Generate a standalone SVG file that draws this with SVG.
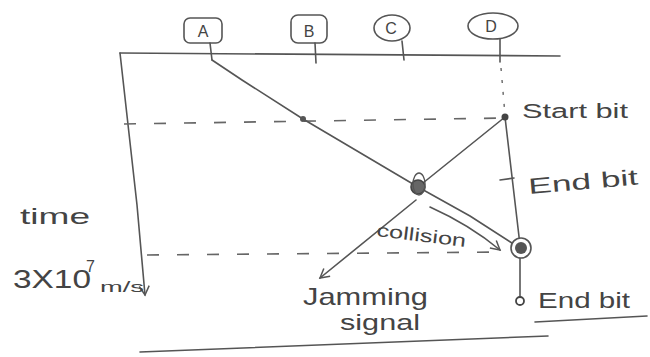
<svg xmlns="http://www.w3.org/2000/svg" width="650" height="357" viewBox="0 0 650 357">
<style>
.ln{fill:none;stroke:#555;stroke-width:1.6;stroke-linecap:round;stroke-linejoin:round}
.dash{fill:none;stroke:#666;stroke-width:1.6;stroke-dasharray:12 18}
.box{fill:#fff;stroke:#555;stroke-width:1.6}
.t{font-family:"Liberation Sans",Arial,sans-serif;fill:#444}
.lbl{font-family:"Liberation Sans",Arial,sans-serif;fill:#444;font-size:16px;text-anchor:middle}
</style>
<defs>
<marker id="ah" viewBox="0 0 12 12" refX="10" refY="6" markerWidth="12" markerHeight="12" markerUnits="userSpaceOnUse" orient="auto">
<path d="M1,1 L10,6 L1,11" fill="none" stroke="#555" stroke-width="1.5"/>
</marker>
</defs>
<rect width="650" height="357" fill="#fff"/>
<g id="axes">
<path class="ln" d="M120,53 L560,56"/>
<path class="ln" d="M120,53 L137,205 L145,295" marker-end="url(#ah)"/>
<path class="ln" d="M140,352 L548,336"/>
<path class="ln" d="M535,322 L647,316"/>
</g>
<g id="nodeA"><rect class="box" x="184" y="18" width="38" height="25" rx="6"/><text class="lbl" x="203" y="37">A</text></g>
<g id="nodeB"><rect class="box" x="291" y="15" width="36" height="28" rx="7"/><text class="lbl" x="309" y="37">B</text></g>
<g id="nodeC"><ellipse class="box" cx="392" cy="28" rx="18" ry="13"/><text class="lbl" x="391" y="34">C</text></g>
<g id="nodeD"><ellipse class="box" cx="493" cy="26" rx="25" ry="13"/><text class="lbl" x="491" y="32">D</text></g>
<g id="connectors">
<path class="ln" d="M210,43 L212,60"/>
<path class="ln" d="M315,43 L316,63"/>
<path class="ln" d="M402,41 L404,60"/>
<path class="ln" d="M500,39 L500,62"/>
<path d="M501,68 L505,115" fill="none" stroke="#666" stroke-width="1.4" stroke-dasharray="3 9"/>
<path class="dash" d="M124,124 L505,118"/>
<path class="dash" d="M147,255 L500,252"/>
<path class="ln" d="M212,60 L242,80 L303,119 L418,187 L470,216 L515,245"/>
<path class="ln" d="M505,117 L418,187"/>
<path class="ln" d="M505,117 L520,245"/>
<path class="ln" d="M500,180 L514,178"/>
<path class="ln" d="M416,200 L320,278" marker-end="url(#ah)"/>
<path class="ln" d="M430,207 Q470,225 500,250" marker-end="url(#ah)"/>
<path class="ln" d="M520,258 L520,297"/>
<circle cx="303" cy="119" r="3" fill="#555"/>
<circle cx="505" cy="117" r="3.5" fill="#444"/>
<circle cx="418" cy="187" r="7" fill="#666" stroke="#444" stroke-width="1.6"/>
<ellipse cx="419" cy="184" rx="6" ry="11" fill="none" stroke="#555" stroke-width="1.4"/>
<circle cx="521" cy="248" r="10" fill="#fff" stroke="#555" stroke-width="1.6"/>
<circle cx="521" cy="248" r="6" fill="#555"/>
<circle cx="520" cy="301" r="4" fill="#fff" stroke="#444" stroke-width="1.8"/>
</g>
<g id="labels">
<text class="t" x="522" y="118" font-size="20" textLength="106" lengthAdjust="spacingAndGlyphs">Start bit</text>
<text class="t" x="529" y="194" font-size="22" textLength="110" lengthAdjust="spacingAndGlyphs" transform="rotate(-5 529 194)">End bit</text>
<text class="t" x="376" y="236" font-size="18" textLength="90" lengthAdjust="spacingAndGlyphs" transform="rotate(7 376 236)">collision</text>
<text class="t" x="20" y="224" font-size="22" textLength="70" lengthAdjust="spacingAndGlyphs">time</text>
<text class="t" x="13" y="288" font-size="26" textLength="78" lengthAdjust="spacingAndGlyphs">3X10</text>
<text class="t" x="86" y="272" font-size="16">7</text>
<text class="t" x="100" y="292" font-size="14" textLength="44" lengthAdjust="spacingAndGlyphs">m/s</text>
<text class="t" x="303" y="305" font-size="24" textLength="125" lengthAdjust="spacingAndGlyphs">Jamming</text>
<text class="t" x="340" y="330" font-size="22" textLength="80" lengthAdjust="spacingAndGlyphs">signal</text>
<text class="t" x="538" y="308" font-size="22" textLength="92" lengthAdjust="spacingAndGlyphs">End bit</text>
</g>
</svg>
